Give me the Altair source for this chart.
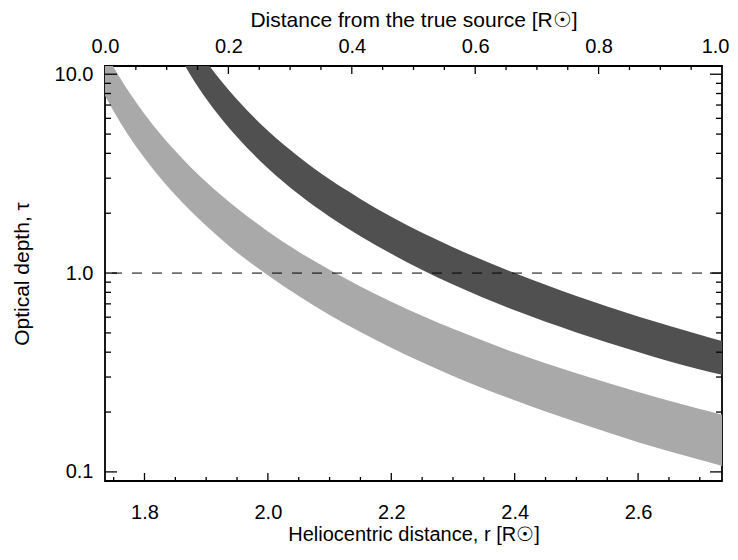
import altair as alt
import pandas as pd

# ---- data ----
r_light = [1.736, 1.75, 1.775, 1.80, 1.825, 1.85, 1.90, 1.95, 2.00, 2.05, 2.10, 2.20, 2.30, 2.40, 2.50, 2.60, 2.70, 2.736]
light_lo = [7.80, 6.52, 4.88, 3.79, 3.02, 2.47, 1.73, 1.27, 0.975, 0.766, 0.615, 0.421, 0.304, 0.229, 0.178, 0.141, 0.115, 0.107]
light_hi = [13.0, 10.85, 8.14, 6.31, 5.04, 4.11, 2.87, 2.12, 1.62, 1.28, 1.04, 0.717, 0.524, 0.398, 0.313, 0.252, 0.207, 0.194]

r_dark = [1.85, 1.875, 1.90, 1.925, 1.95, 2.00, 2.05, 2.10, 2.15, 2.20, 2.30, 2.40, 2.50, 2.60, 2.70, 2.736]
dark_lo = [13.5, 9.85, 7.53, 5.96, 4.83, 3.37, 2.49, 1.92, 1.53, 1.25, 0.875, 0.650, 0.503, 0.401, 0.327, 0.308]
dark_hi = [20.8, 15.2, 11.6, 9.19, 7.46, 5.20, 3.85, 2.96, 2.36, 1.92, 1.35, 1.00, 0.767, 0.604, 0.489, 0.455]

threshold = [1.0]

r_domain = [1.736, 2.736]
d_domain = [0.0, 1.0]
tau_domain = [0.09, 11.0]

r_major = [1.8, 2.0, 2.2, 2.4, 2.6]
r_minor = [1.75, 1.85, 1.9, 1.95, 2.05, 2.1, 2.15, 2.25, 2.3, 2.35, 2.45, 2.5, 2.55, 2.65, 2.7]
d_labels = [0.0, 0.2, 0.4, 0.6, 0.8, 1.0]
d_major = [0.2, 0.4, 0.6, 0.8]
d_minor = [0.05, 0.1, 0.15, 0.25, 0.3, 0.35, 0.45, 0.5, 0.55, 0.65, 0.7, 0.75, 0.85, 0.9, 0.95]
tau_major = [0.1, 1.0, 10.0]
tau_minor = [0.2, 0.3, 0.4, 0.5, 0.6, 0.7, 0.8, 0.9, 2, 3, 4, 5, 6, 7, 8, 9]

W, H = 617, 415
FONT = "Liberation Sans"
LFS = 20
TFS = 21
LIGHT = "#a9a9a9"
DARK = "#505050"

xs = alt.Scale(domain=r_domain, nice=False, zero=False)
ds = alt.Scale(domain=d_domain, nice=False, zero=False)
ys = alt.Scale(type="log", domain=tau_domain, nice=False)

light_df = pd.DataFrame({"r": r_light, "lo": light_lo, "hi": light_hi})
dark_df = pd.DataFrame({"r": r_dark, "lo": dark_lo, "hi": dark_hi})

X_TITLE = "Heliocentric distance, r [R☉]"
Y_TITLE = "Optical depth, τ"
T_TITLE = "Distance from the true source [R☉]"

x_axis = alt.Axis(values=r_major, format=".1f", ticks=False, domain=False, grid=False,
                  labelFlush=False, labelOverlap=False, labelPadding=21, titlePadding=2,
                  titleFontSize=20, title=X_TITLE)
y_axis = alt.Axis(values=tau_major, format=".1f", ticks=False, domain=False, grid=False,
                  labelFlush=False, labelOverlap=False, labelPadding=12, titlePadding=22,
                  title=Y_TITLE)
top_axis = alt.Axis(orient="top", values=d_labels, format=".1f", ticks=False, domain=False, grid=False,
                    labelFlush=False, labelOverlap=False, labelPadding=10, titlePadding=6,
                    labelAlign=alt.ExprRef("datum.value >= 1 ? 'right' : 'center'"),
                    labelOffset=alt.ExprRef("datum.value >= 1 ? 7 : 0"),
                    title=T_TITLE)


def X(field="r"):
    return alt.X(f"{field}:Q", scale=xs, axis=x_axis, title=X_TITLE)


def Y(field):
    return alt.Y(f"{field}:Q", scale=ys, axis=y_axis, title=Y_TITLE)


light = alt.Chart(light_df).mark_area(color=LIGHT, clip=True, interpolate="monotone").encode(
    x=X(), y=Y("lo"), y2="hi:Q",
)
dark = alt.Chart(dark_df).mark_area(color=DARK, clip=True, interpolate="monotone").encode(
    x=X(), y=Y("lo"), y2="hi:Q",
)
dash = alt.Chart(pd.DataFrame({"lo": threshold})).mark_rule(
    color="black", strokeWidth=1, strokeDash=[10, 10]).encode(
    y=Y("lo")
)


def xticks(vals, length):
    return alt.Chart(pd.DataFrame({"r": vals})).mark_rule(color="black", strokeWidth=1.3).encode(
        x=X(), y=alt.value(H), y2=alt.value(H - length))


def yticks(vals, length):
    df = pd.DataFrame({"lo": vals})
    left = alt.Chart(df).mark_rule(color="black", strokeWidth=1.3).encode(
        y=Y("lo"), x=alt.value(0), x2=alt.value(length))
    right = alt.Chart(df).mark_rule(color="black", strokeWidth=1.3).encode(
        y=Y("lo"), x=alt.value(W), x2=alt.value(W - length))
    return [left, right]


bottom_layers = alt.layer(
    light, dark, dash,
    xticks(r_major, 8), xticks(r_minor, 4),
    *yticks(tau_major, 12), *yticks(tau_minor, 6),
)


def D():
    return alt.X("d:Q", scale=ds, axis=top_axis, title=T_TITLE)


top_major = alt.Chart(pd.DataFrame({"d": d_major})).mark_rule(color="black", strokeWidth=1.3).encode(
    x=D(), y=alt.value(0), y2=alt.value(8))
top_minor = alt.Chart(pd.DataFrame({"d": d_minor})).mark_rule(color="black", strokeWidth=1.3).encode(
    x=D(), y=alt.value(0), y2=alt.value(4))
top_layers = alt.layer(top_major, top_minor)

chart = alt.layer(bottom_layers, top_layers).resolve_scale(x="independent").properties(
    width=W, height=H,
    autosize=alt.AutoSizeParams(type="none"),
    padding={"left": 97, "top": 58, "right": 8, "bottom": 71},
    background="white",
).configure_view(stroke="black", strokeWidth=1.8).configure_axis(
    labelFont=FONT, titleFont=FONT, labelFontSize=LFS, titleFontSize=TFS,
    titleFontWeight="normal", labelColor="black", titleColor="black",
)

chart.save("out.html", embed_options={"renderer": "svg", "actions": False})
